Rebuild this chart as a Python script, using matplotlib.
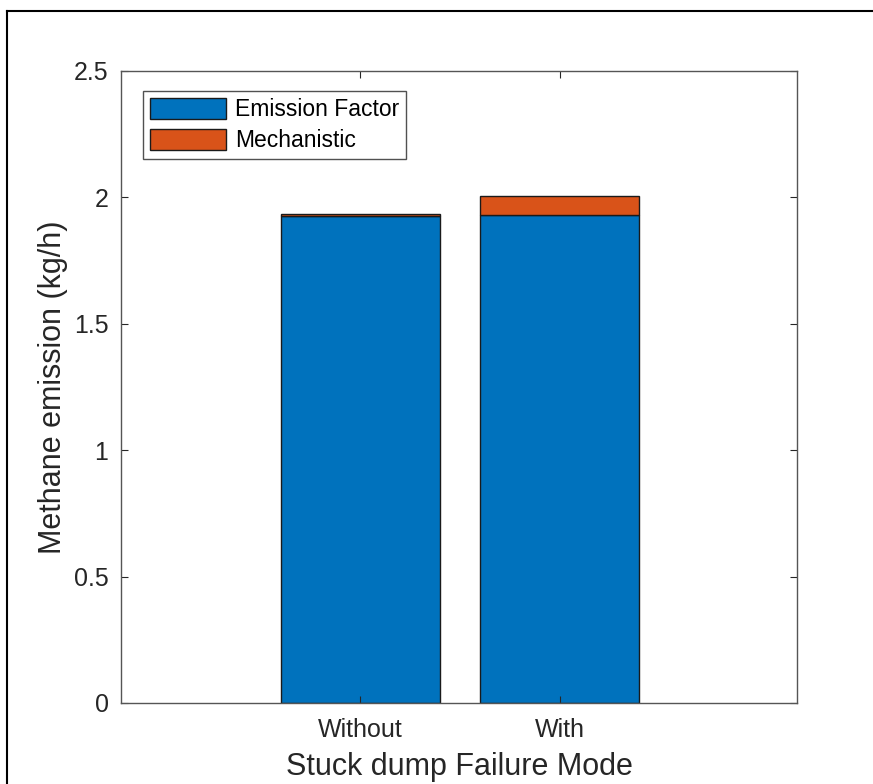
import matplotlib
matplotlib.use("Agg")
import matplotlib.pyplot as plt
from matplotlib.lines import Line2D
import numpy as np

categories = ["Without", "With"]
emission_factor = [1.925, 1.930]
mechanistic = [0.011, 0.075]
legend_labels = ["Emission Factor", "Mechanistic"]
yticks = [0, 0.5, 1, 1.5, 2, 2.5]
ytick_labels = ["0", "0.5", "1", "1.5", "2", "2.5"]

plt.rcParams["font.family"] = ["Liberation Sans", "DejaVu Sans"]

blue = "#0072BD"
orange = "#D95319"
axcol = "#262626"

fig = plt.figure(figsize=(8.73, 7.84), dpi=100)
ax = fig.add_axes([121/873, 1-703/784, (797-121)/873, (703-71)/784])

x = np.arange(1, len(categories)+1)
ax.bar(x, emission_factor, 0.8, color=blue, edgecolor="#1a1a1a", linewidth=1.0,
       label=legend_labels[0])
ax.bar(x, mechanistic, 0.8, bottom=emission_factor, color=orange, edgecolor="#1a1a1a",
       linewidth=1.0, label=legend_labels[1])

ax.set_xlim(-0.2, 3.19)
ax.set_ylim(0, 2.5)
ax.set_xticks(x)
ax.set_xticklabels(categories)
ax.set_yticks(yticks)
ax.set_yticklabels(ytick_labels)
ax.tick_params(direction="in", length=5, width=0.8, colors=axcol, labelsize=18,
               top=True, right=True)
ax.tick_params(axis="y", pad=9)
ax.tick_params(axis="x", pad=11)
for s in ax.spines.values():
    s.set_color("#555555")
    s.set_linewidth(1.0)

ax.set_xlabel("Stuck dump Failure Mode", fontsize=22, color=axcol)
ax.set_ylabel("Methane emission (kg/h)", fontsize=22, color=axcol)
ax.xaxis.set_label_coords(0.5, (703-752)/632)
ax.yaxis.set_label_coords((68-121)/676, 0.5)

leg = ax.legend(loc="upper left", bbox_to_anchor=(0.033, 0.968), fontsize=16.5,
                frameon=True, fancybox=False, edgecolor=axcol, handlelength=3.3,
                handleheight=1.0, handletextpad=0.4, labelspacing=0.35,
                borderpad=0.3, borderaxespad=0)
leg.get_frame().set_linewidth(1.0)

# outer frame lines (top and left)
fig.add_artist(Line2D([7/873, 7/873], [0, 1-11/784], color="black", linewidth=1.5,
                      transform=fig.transFigure))
fig.add_artist(Line2D([7/873, 1], [1-11/784, 1-11/784], color="black", linewidth=1.5,
                      transform=fig.transFigure))

fig.savefig("out.png", dpi=100)
